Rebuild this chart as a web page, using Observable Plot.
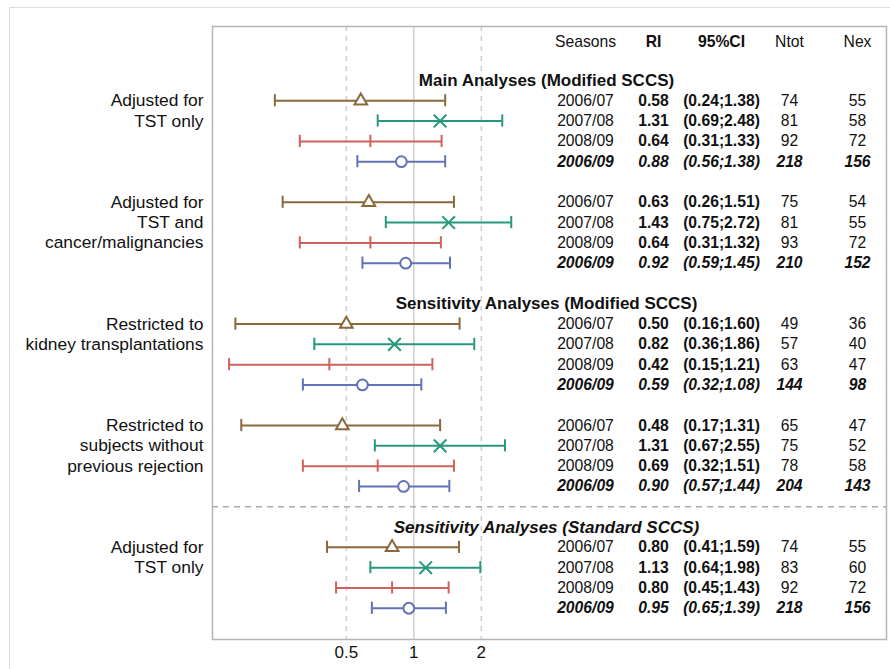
<!DOCTYPE html>
<html><head><meta charset="utf-8">
<script src="https://cdn.jsdelivr.net/npm/d3@7"></script>
<script src="https://cdn.jsdelivr.net/npm/@observablehq/plot@0.6"></script>
<style>
body{margin:0;background:#fff;font-family:"Liberation Sans",Arial,Helvetica,sans-serif;}
#wrap{position:relative;width:890px;height:669px;overflow:hidden;}
#outer{position:absolute;left:9px;top:7px;width:900px;height:700px;border:1.5px solid #dcdcdc;box-sizing:border-box;}
#wrap svg{position:absolute;left:0;top:0;}
</style></head><body><div id="wrap"><div id="outer"></div></div>
<script>
// ---- data ----
const seasons = ["2006/07", "2007/08", "2008/09", "2006/09"];
const tableColumns = ["Seasons", "RI", "95%CI", "Ntot", "Nex"];
const xTicks = [0.5, 1, 2];
const sectionTitles = ["Main Analyses (Modified SCCS)", "Sensitivity Analyses (Modified SCCS)", "Sensitivity Analyses (Standard SCCS)"];
const analysisLabels = [
  ["Adjusted for", "TST only"],
  ["Adjusted for", "TST and", "cancer/malignancies"],
  ["Restricted to", "kidney transplantations"],
  ["Restricted to", "subjects without", "previous rejection"],
  ["Adjusted for", "TST only"]
];
const analysisSection = [0, 0, 1, 1, 2];
const riValues = [
  [0.58, 1.31, 0.64, 0.88],
  [0.63, 1.43, 0.64, 0.92],
  [0.50, 0.82, 0.42, 0.59],
  [0.48, 1.31, 0.69, 0.90],
  [0.80, 1.13, 0.80, 0.95]
];
const ciLow = [
  [0.24, 0.69, 0.31, 0.56],
  [0.26, 0.75, 0.31, 0.59],
  [0.16, 0.36, 0.15, 0.32],
  [0.17, 0.67, 0.32, 0.57],
  [0.41, 0.64, 0.45, 0.65]
];
const ciHigh = [
  [1.38, 2.48, 1.33, 1.38],
  [1.51, 2.72, 1.32, 1.45],
  [1.60, 1.86, 1.21, 1.08],
  [1.31, 2.55, 1.51, 1.44],
  [1.59, 1.98, 1.43, 1.39]
];
const nTot = [
  [74, 81, 92, 218],
  [75, 81, 93, 210],
  [49, 57, 63, 144],
  [65, 75, 78, 204],
  [74, 83, 92, 218]
];
const nEx = [
  [55, 58, 72, 156],
  [54, 55, 72, 152],
  [36, 40, 47, 98],
  [47, 52, 58, 143],
  [55, 60, 72, 156]
];

// ---- styling ----
const seriesColors = ["#8a6a3c", "#27977f", "#d0605b", "#6272b5"];
const FONT = '"Liberation Sans", Arial, Helvetica, sans-serif';
const TXT = "#111";

// ---- row layout (slot units) ----
const rows = [], labelLines = [], titles = [];
let dividerSlot = null;
{
  let slot = 0, cur = -1;
  analysisLabels.forEach((lab, g) => {
    const sec = analysisSection[g];
    if (sec !== cur) {
      if (sec === 2) dividerSlot = slot - 1;
      titles.push({text: sectionTitles[sec], slot, italic: sec === 2});
      slot += 1; cur = sec;
    }
    lab.forEach((t, i) => labelLines.push({text: t, slot: slot + i}));
    seasons.forEach((s, i) => rows.push({
      season: s, total: i === 3, slot: slot + i,
      ri: riValues[g][i], lo: ciLow[g][i], hi: ciHigh[g][i],
      ntot: nTot[g][i], nex: nEx[g][i]
    }));
    slot += 5;
  });
}
const headerSlot = -1.9;

const W = 890, H = 669;
const margins = {marginLeft: 212, marginRight: 4, marginTop: 26, marginBottom: 30};
const yScale = {domain: [-2.66, 27.54], reverse: true, axis: null};
const cap = 0.3;

const main = Plot.plot({
  width: W, height: H, ...margins,
  style: {fontFamily: FONT, fontSize: "17px", color: TXT, background: "transparent"},
  x: {type: "log", domain: [0.1265, 128.3], axis: null},
  y: yScale,
  color: {domain: seasons, range: seriesColors},
  marks: [
    Plot.ruleX(xTicks.filter(t => t !== 1), {stroke: "#cfcfcf", strokeWidth: 1.5, strokeDasharray: "5,5"}),
    Plot.ruleX(xTicks.filter(t => t === 1), {stroke: "#cfcfcf", strokeWidth: 1.5}),
    Plot.ruleY([dividerSlot], {stroke: "#aaaaaa", strokeWidth: 1.5, strokeDasharray: "6,5"}),
    Plot.ruleY(rows, {x1: "lo", x2: "hi", y: "slot", stroke: "season", strokeWidth: 2}),
    Plot.ruleX(rows, {x: "lo", y1: d => d.slot - cap, y2: d => d.slot + cap, stroke: "season", strokeWidth: 2}),
    Plot.ruleX(rows, {x: "hi", y1: d => d.slot - cap, y2: d => d.slot + cap, stroke: "season", strokeWidth: 2}),
    Plot.ruleX(rows.filter(d => d.season === seasons[2]), {x: "ri", y1: d => d.slot - cap, y2: d => d.slot + cap, stroke: "season", strokeWidth: 2}),
    Plot.dot(rows.filter(d => d.season === seasons[0]), {x: "ri", y: "slot", symbol: "triangle", r: 4.7, stroke: "season", fill: "white", strokeWidth: 2}),
    Plot.dot(rows.filter(d => d.season === seasons[1]), {x: "ri", y: "slot", symbol: "times", r: 5.8, stroke: "season", strokeWidth: 2}),
    Plot.dot(rows.filter(d => d.season === seasons[3]), {x: "ri", y: "slot", symbol: "circle", r: 5.4, stroke: "season", fill: "white", strokeWidth: 2}),
    Plot.text(labelLines, {text: "text", y: "slot", frameAnchor: "left", textAnchor: "end", dx: -9, fontSize: 17.4, fill: TXT}),
    Plot.text(xTicks, {x: d => d, text: d => String(d), frameAnchor: "bottom", lineAnchor: "top", dy: 6, fontSize: 17, fill: TXT}),
    Plot.frame({stroke: "#b4b4b4", strokeWidth: 1.5})
  ]
});

// ---- table overlay ----
const cols = [
  {key: "Seasons", value: d => d.season, weight: "normal"},
  {key: "RI", value: d => d.ri.toFixed(2), weight: "bold"},
  {key: "95%CI", value: d => `(${d.lo.toFixed(2)};${d.hi.toFixed(2)})`, weight: "bold"},
  {key: "Ntot", value: d => String(d.ntot), weight: "normal"},
  {key: "Nex", value: d => String(d.nex), weight: "normal"}
];
const tableMarks = [];
cols.forEach(c => {
  tableMarks.push(Plot.text([c.key], {x: () => c.key, y: () => headerSlot, text: d => d, fontSize: 15.7, fontWeight: c.weight, fill: TXT}));
  tableMarks.push(Plot.text(rows.filter(d => !d.total), {x: () => c.key, y: "slot", text: c.value, fontSize: 15.7, fontWeight: c.weight, fill: TXT}));
  tableMarks.push(Plot.text(rows.filter(d => d.total), {x: () => c.key, y: "slot", text: c.value, fontSize: 15.7, fontWeight: "bold", fontStyle: "italic", fill: TXT}));
});
tableMarks.push(Plot.text(titles.filter(t => !t.italic), {x: () => tableColumns[0], y: "slot", text: "text", dx: -39, fontSize: 17, fontWeight: "bold", fill: TXT}));
tableMarks.push(Plot.text(titles.filter(t => t.italic), {x: () => tableColumns[0], y: "slot", text: "text", dx: -39, fontSize: 17, fontWeight: "bold", fontStyle: "italic", fill: TXT}));

const table = Plot.plot({
  width: W, height: H, ...margins,
  style: {fontFamily: FONT, fontSize: "15.7px", color: TXT, background: "transparent"},
  x: {type: "point", domain: tableColumns, range: [584, 857], padding: 0, axis: null},
  y: yScale,
  marks: tableMarks
});
table.style.pointerEvents = "none";

const wrap = document.getElementById("wrap");
wrap.appendChild(main);
wrap.appendChild(table);
</script></body></html>
